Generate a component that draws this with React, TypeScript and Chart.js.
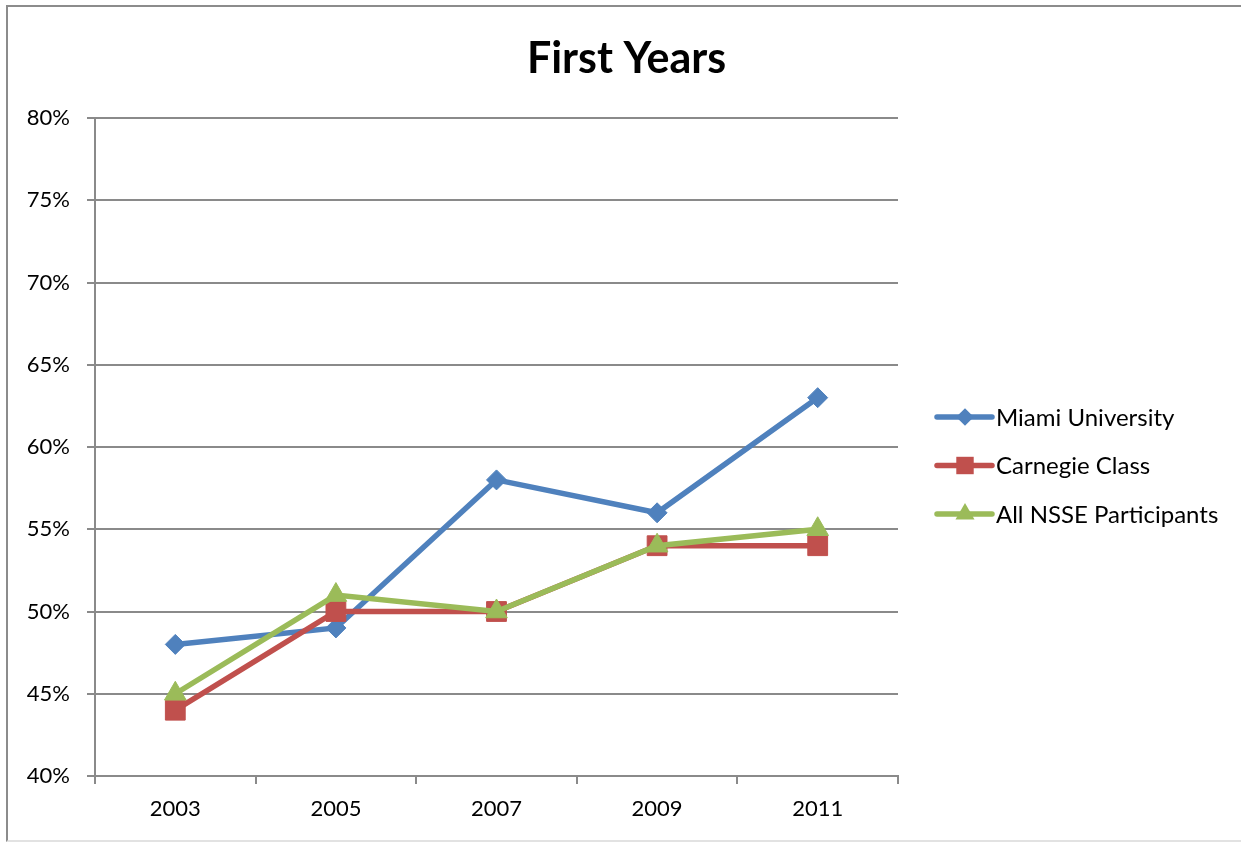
import React, { useEffect, useRef } from 'react';
import { Chart, registerables } from 'chart.js';

Chart.register(...registerables);

// Survey years and the share of first-year students per comparison group (%)
const years = ['2003', '2005', '2007', '2009', '2011'];
const miamiUniversity = [48, 49, 58, 56, 63];
const carnegieClass = [44, 50, 50, 54, 54];
const allNsseParticipants = [45, 51, 50, 54, 55];

const chartTitle = 'First Years';
const seriesNames = ['Miami University', 'Carnegie Class', 'All NSSE Participants'];
const seriesColors = ['#4F81BD', '#C0504D', '#9BBB59'];
const seriesMarkers = ['rectRot', 'rect', 'triangle'];
const markerRadii = [10, 14, 12.5];

const yMin = 40;
const yMax = 80;
const yStep = 5;

const FONT = 'Lato, "Noto Sans", "Liberation Sans", sans-serif';
const GRID = '#8a8a8a';
const LINE_W = 5.5;

const CANVAS_W = 1233;
const CANVAS_H = 834;

// Legend drawn to the right of the plot area: line sample, marker, label
const LEGEND_TOP = 409;
const LEGEND_GAP = 48.5;

function drawMarker(ctx: CanvasRenderingContext2D, style: string, x: number, y: number, r: number) {
  ctx.beginPath();
  if (style === 'rectRot') {
    ctx.moveTo(x - r, y);
    ctx.lineTo(x, y - r);
    ctx.lineTo(x + r, y);
    ctx.lineTo(x, y + r);
  } else if (style === 'rect') {
    const s = r * Math.SQRT1_2;
    ctx.rect(x - s, y - s, 2 * s, 2 * s);
  } else {
    for (let k = 0; k < 3; k++) {
      const a = (k * 2 * Math.PI) / 3;
      const px = x + Math.sin(a) * r;
      const py = y - Math.cos(a) * r;
      if (k === 0) ctx.moveTo(px, py);
      else ctx.lineTo(px, py);
    }
  }
  ctx.closePath();
  ctx.fill();
}

// Title centred over the whole canvas, plus the side legend
const titleAndLegend = {
  id: 'titleAndLegend',
  afterDraw(chart: any) {
    const ctx: CanvasRenderingContext2D = chart.ctx;
    const area = chart.chartArea;

    ctx.save();
    ctx.fillStyle = '#000';
    ctx.font = `bold 43px ${FONT}`;
    ctx.textAlign = 'center';
    ctx.textBaseline = 'middle';
    ctx.fillText(chartTitle, chart.width / 2 + 2, 51);
    ctx.restore();

    const x0 = area.right + 39;
    seriesNames.forEach((name, i) => {
      const y = LEGEND_TOP + i * LEGEND_GAP;
      const color = seriesColors[i];
      ctx.save();
      ctx.strokeStyle = color;
      ctx.fillStyle = color;
      ctx.lineWidth = LINE_W;
      ctx.lineCap = 'round';
      ctx.beginPath();
      ctx.moveTo(x0, y);
      ctx.lineTo(x0 + 55, y);
      ctx.stroke();
      drawMarker(ctx, seriesMarkers[i], x0 + 28, y, markerRadii[i] * 0.88);
      ctx.fillStyle = '#000';
      ctx.font = `24px ${FONT}`;
      ctx.textBaseline = 'middle';
      ctx.textAlign = 'left';
      ctx.fillText(name, x0 + 59, y + 1);
      ctx.restore();
    });
  },
};

export default function App() {
  const canvasRef = useRef<HTMLCanvasElement | null>(null);

  useEffect(() => {
    const canvas = canvasRef.current;
    if (!canvas) return;
    const values = [miamiUniversity, carnegieClass, allNsseParticipants];
    const chart = new Chart(canvas, {
      type: 'line',
      data: {
        labels: years,
        datasets: seriesNames.map((name, i) => ({
          label: name,
          data: values[i],
          borderColor: seriesColors[i],
          backgroundColor: seriesColors[i],
          pointBackgroundColor: seriesColors[i],
          pointBorderColor: seriesColors[i],
          pointBorderWidth: 1,
          pointStyle: seriesMarkers[i] as any,
          pointRadius: markerRadii[i],
          borderWidth: LINE_W,
          tension: 0,
          fill: false,
          order: 2 - i,
        })),
      },
      options: {
        responsive: false,
        animation: false,
        devicePixelRatio: 1,
        layout: { padding: { left: 0, right: 343, top: 110, bottom: 0 } },
        plugins: {
          legend: { display: false },
          tooltip: { enabled: false },
          title: { display: false },
        },
        scales: {
          x: {
            type: 'category',
            offset: true,
            grid: {
              offset: true,
              drawOnChartArea: false,
              drawTicks: true,
              tickLength: 8,
              color: GRID,
              lineWidth: 2,
            },
            border: { display: true, color: GRID, width: 2 },
            ticks: {
              color: '#000',
              font: { family: FONT, size: 22 },
              padding: 12,
              maxRotation: 0,
            },
            afterFit(scale: any) {
              scale.height = 66;
            },
          },
          y: {
            min: yMin,
            max: yMax,
            grid: {
              color: GRID,
              lineWidth: 2,
              drawTicks: true,
              tickLength: 8,
            },
            border: { display: true, color: GRID, width: 2 },
            ticks: {
              stepSize: yStep,
              color: '#000',
              font: { family: FONT, size: 22 },
              padding: 17,
              callback: (v: any) => `${v}%`,
            },
            afterFit(scale: any) {
              scale.width = 87;
            },
          },
        },
      },
      plugins: [titleAndLegend],
    });
    return () => chart.destroy();
  }, []);

  return (
    <div
      style={{
        position: 'fixed',
        left: 0,
        top: 0,
        width: 1241,
        height: 842,
        overflow: 'hidden',
        background: '#fff',
      }}
    >
      <div
        style={{
          position: 'absolute',
          left: 6,
          top: 5,
          width: 1300,
          height: 833,
          borderLeft: '2px solid #8c8c8c',
          borderTop: '2px solid #8c8c8c',
          borderBottom: '2px solid #e2e2e2',
        }}
      />
      <canvas
        ref={canvasRef}
        width={CANVAS_W}
        height={CANVAS_H}
        style={{ position: 'absolute', left: 8, top: 8, width: CANVAS_W, height: CANVAS_H }}
      />
    </div>
  );
}
